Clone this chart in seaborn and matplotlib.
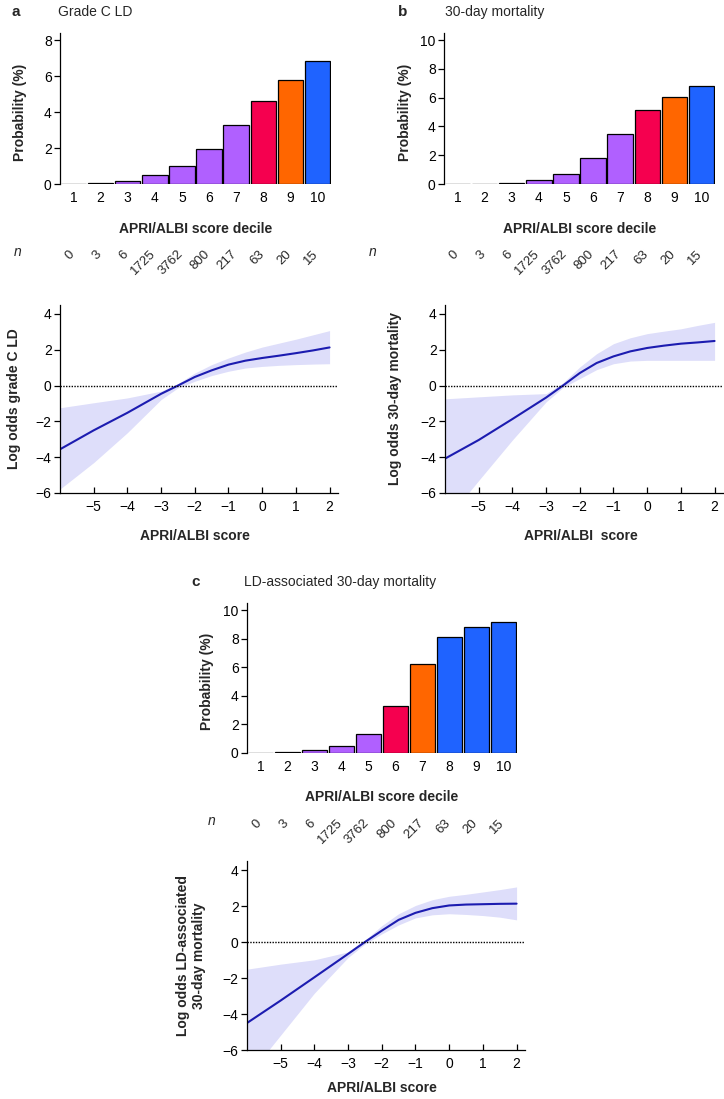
import numpy as np
import pandas as pd
import matplotlib
matplotlib.use("Agg")
import matplotlib.pyplot as plt
import seaborn as sns
from matplotlib.transforms import blended_transform_factory

# ---------------- data ----------------
deciles = ["1", "2", "3", "4", "5", "6", "7", "8", "9", "10"]
n_labels = ["0", "3", "6", "1725", "3762", "800", "217", "63", "20", "15"]

prob_a = [0.02, 0.07, 0.14, 0.49, 0.99, 1.96, 3.3, 4.6, 5.8, 6.86]
prob_b = [0.02, 0.02, 0.09, 0.3, 0.72, 1.83, 3.5, 5.12, 6.04, 6.78]
prob_c = [0.02, 0.07, 0.19, 0.47, 1.3, 3.26, 6.2, 8.14, 8.84, 9.14]

group_a = ["p", "p", "p", "p", "p", "p", "p", "r", "o", "b"]
group_b = ["p", "p", "p", "p", "p", "p", "p", "r", "o", "b"]
group_c = ["p", "p", "p", "p", "p", "r", "o", "b", "b", "b"]

score_x = [-6, -5, -4, -3, -2.5, -2, -1.5, -1, -0.5, 0, 0.5, 1, 1.5, 2]

logodds_a = [-3.56, -2.5, -1.52, -0.46, 0.0, 0.48, 0.85, 1.17, 1.39, 1.54, 1.67, 1.81, 1.96, 2.13]
upper_a = [-1.24, -0.96, -0.69, -0.31, 0.11, 0.7, 1.17, 1.54, 1.87, 2.15, 2.37, 2.59, 2.83, 3.07]
lower_a = [-5.78, -4.3, -2.63, -0.78, -0.13, 0.24, 0.56, 0.8, 0.98, 1.07, 1.13, 1.17, 1.2, 1.22]

logodds_b = [-4.08, -3.04, -1.87, -0.67, 0.0, 0.7, 1.26, 1.63, 1.91, 2.1, 2.23, 2.34, 2.41, 2.49]
upper_b = [-0.74, -0.63, -0.52, -0.45, 0.15, 1.04, 1.78, 2.34, 2.67, 2.9, 3.04, 3.17, 3.36, 3.53]
lower_b = [-7.6, -5.3, -3.04, -0.91, -0.11, 0.39, 0.89, 1.22, 1.37, 1.41, 1.41, 1.41, 1.41, 1.41]

logodds_c = [-4.5, -3.25, -1.96, -0.66, 0.0, 0.63, 1.23, 1.62, 1.88, 2.03, 2.08, 2.1, 2.12, 2.13]
upper_c = [-1.51, -1.23, -0.99, -0.55, 0.1, 0.91, 1.57, 2.03, 2.35, 2.54, 2.65, 2.78, 2.91, 3.06]
lower_c = [-7.5, -5.17, -2.84, -0.86, -0.11, 0.45, 0.95, 1.34, 1.51, 1.57, 1.53, 1.47, 1.38, 1.23]

# ---------------- style ----------------
sns.set_style("ticks")
plt.rcParams["font.family"] = ["Liberation Sans", "DejaVu Sans"]
plt.rcParams["axes.edgecolor"] = "black"
plt.rcParams["axes.linewidth"] = 0.9
plt.rcParams["xtick.color"] = "black"
plt.rcParams["ytick.color"] = "black"

palette = {"p": "#b060ff", "r": "#f5004f", "o": "#ff6600", "b": "#1f63ff"}
LINE_COLOR = "#1c1cb0"
FILL_COLOR = "#dedefa"

W, H = 724, 1099
fig = plt.figure(figsize=(W / 100, H / 100), dpi=100)


def rect(left, top, right, bottom):
    return [left / W, 1 - bottom / H, (right - left) / W, (bottom - top) / H]


def fx(x):
    return x / W


def fy(y):
    return 1 - y / H


def bar_panel(r, probs, groups, ymax, yticks, n_y, n_x, xlab_y, ylab_x):
    ax = fig.add_axes(r)
    df = pd.DataFrame({"decile": deciles, "prob": probs, "grp": groups})
    sns.barplot(data=df, x="decile", y="prob", hue="grp", palette=palette,
                dodge=False, legend=False, width=0.94, edgecolor="black",
                linewidth=0.9, order=deciles, ax=ax, saturation=1)
    ax.set_xlim(-0.5, 9.5)
    ax.set_ylim(0, ymax)
    ax.set_yticks(yticks)
    ax.tick_params(axis="y", direction="out", length=4, width=0.9, labelsize=10, pad=2)
    ax.tick_params(axis="x", length=0, labelsize=10, pad=5)
    for s in ["top", "right", "bottom"]:
        ax.spines[s].set_visible(False)
    ax.set_xlabel("")
    ax.set_ylabel("")
    ax.patch.set_alpha(0)
    bb = ax.get_position()
    fig.text(bb.x0 + bb.width / 2, fy(xlab_y), "APRI/ALBI score decile",
             ha="center", va="center", fontsize=10, fontweight="bold")
    fig.text(fx(ylab_x), bb.y0 + bb.height * 0.475, "Probability (%)",
             rotation=90, ha="center", va="center", fontsize=10, fontweight="bold")
    # n row
    fig.text(fx(n_x), fy(n_y + 4), "n", style="italic", ha="center", va="center", fontsize=10)
    trans = blended_transform_factory(ax.transData, fig.transFigure)
    for i, lbl in enumerate(n_labels):
        ax.text(i + 0.12, fy(n_y), lbl, rotation=45, ha="right", va="top",
                transform=trans, fontsize=9.5, clip_on=False)
    return ax


def line_panel(r, y, lo, hi, xlab_y, xlab, ylab_x, ylab):
    ax = fig.add_axes(r)
    ax.fill_between(score_x, lo, hi, color=FILL_COLOR, lw=0)
    sns.lineplot(x=score_x, y=y, color=LINE_COLOR, lw=1.5, ax=ax)
    ax.axhline(0, color="black", lw=1.0, ls=(0, (1, 1)))
    ax.set_xlim(-6, 2.25)
    ax.set_ylim(-6, 4.5)
    ax.set_xticks([-5, -4, -3, -2, -1, 0, 1, 2])
    ax.set_yticks([-6, -4, -2, 0, 2, 4])
    ax.tick_params(axis="x", direction="in", length=4, width=0.9, labelsize=10, pad=5)
    ax.tick_params(axis="y", direction="out", length=4, width=0.9, labelsize=10, pad=2)
    for s in ["top", "right"]:
        ax.spines[s].set_visible(False)
    ax.patch.set_alpha(0)
    bb = ax.get_position()
    fig.text(bb.x0 + bb.width * 0.5 - 0.005, fy(xlab_y), xlab, ha="center", va="center",
             fontsize=10, fontweight="bold")
    fig.text(fx(ylab_x), bb.y0 + bb.height * 0.5, ylab, rotation=90, ha="center",
             va="center", fontsize=10, fontweight="bold", linespacing=1.15)
    return ax


# panel a
bar_panel(rect(60, 33, 331, 184), prob_a, group_a, 8.4, [0, 2, 4, 6, 8],
          n_y=248, n_x=18, xlab_y=229, ylab_x=20)
line_panel(rect(60, 305, 338, 493), logodds_a, lower_a, upper_a,
           xlab_y=536, xlab="APRI/ALBI score", ylab_x=14, ylab="Log odds grade C LD")
fig.text(fx(16), fy(12), "a", fontsize=11, fontweight="bold", ha="center", va="center")
fig.text(fx(58), fy(12), "Grade C LD", fontsize=10, ha="left", va="center")

# panel b
bar_panel(rect(444, 33, 715, 184), prob_b, group_b, 10.5, [0, 2, 4, 6, 8, 10],
          n_y=248, n_x=373, xlab_y=229, ylab_x=405)
line_panel(rect(445, 305, 723, 493), logodds_b, lower_b, upper_b,
           xlab_y=536, xlab="APRI/ALBI  score", ylab_x=395, ylab="Log odds 30-day mortality")
fig.text(fx(403), fy(12), "b", fontsize=11, fontweight="bold", ha="center", va="center")
fig.text(fx(445), fy(12), "30-day mortality", fontsize=10, ha="left", va="center")

# panel c
bar_panel(rect(247, 603, 517, 753), prob_c, group_c, 10.5, [0, 2, 4, 6, 8, 10],
          n_y=817, n_x=212, xlab_y=797, ylab_x=207)
line_panel(rect(247, 861, 525, 1050), logodds_c, lower_c, upper_c,
           xlab_y=1088, xlab="APRI/ALBI score", ylab_x=191,
           ylab="Log odds LD-associated\n30-day mortality")
fig.text(fx(196), fy(582), "c", fontsize=11, fontweight="bold", ha="center", va="center")
fig.text(fx(244), fy(582), "LD-associated 30-day mortality", fontsize=10, ha="left", va="center")

fig.savefig("out.png", dpi=100)
